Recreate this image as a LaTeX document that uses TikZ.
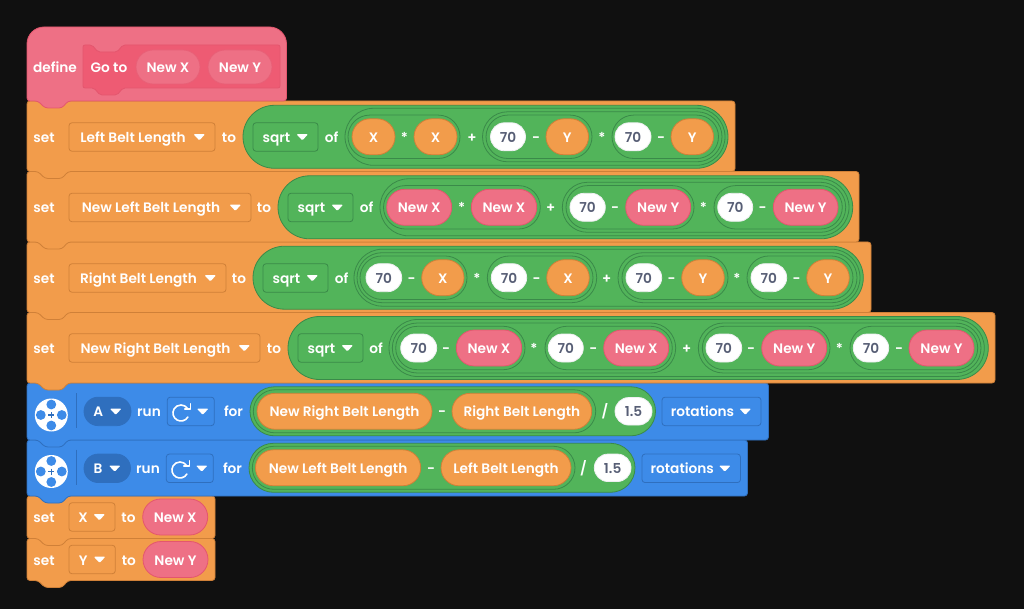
\documentclass[tikz,border=0pt]{standalone}
\usepackage{fontspec}
\setmainfont{Poppins}[UprightFont=* SemiBold,BoldFont=* SemiBold]
\definecolor{bg}{HTML}{101010}
\definecolor{org}{HTML}{F29C4B}
\definecolor{orgd}{HTML}{CF8038}
\definecolor{pnk}{HTML}{EE7085}
\definecolor{pnkd}{HTML}{E4566E}
\definecolor{pnki}{HTML}{EE5B73}
\definecolor{grn}{HTML}{52B45A}
\definecolor{grnd}{HTML}{3A8A49}
\definecolor{blu}{HTML}{3D8BE8}
\definecolor{blud}{HTML}{2F6FBE}
\definecolor{num}{HTML}{575E75}
\newcounter{nn}
\tikzset{
 pillbase/.style={inner sep=0pt,outer sep=0pt,line width=.8pt,font=\fontsize{13.7}{14}\selectfont,text height=11pt,text depth=0pt},
 orgp/.style={fill=org,draw=orgd,text=white},
 pnkp/.style={fill=pnk,draw=pnkd,text=white},
 whtp/.style={fill=white,draw=white!90!num,text=num},
 grnr/.style={fill=grn,draw=grnd},
 defp/.style={fill=pnk,draw=pnkd!60!pnk,text=white},
 txt/.style={inner sep=0pt,outer sep=0pt,text=white,font=\fontsize{13.7}{14}\selectfont,text height=11pt,text depth=0pt},
}
\newcommand\Pill[6]{\stepcounter{nn}%
 \pgfmathsetmacro\Pwid{#2-#1}\pgfmathsetmacro\Pmid{(#1+#2)/2}\pgfmathsetmacro\Prad{#4/2-0.01}%
 \node[pillbase,#5,minimum width=\Pwid pt,minimum height=#4 pt,rounded corners=\Prad pt] (p\thenn) at (\Pmid,#3) {#6};}
\newcommand\Tx[3]{\stepcounter{nn}\node[txt] (t\thenn) at (#1,#2) {#3};}
\newcommand\Tri[2]{\fill[white,rounded corners=1pt] (#1-5.8,#2-2.8) -- (#1+5.8,#2-2.8) -- (#1,#2+3.4) -- cycle;}
% dropdown: left right cy fill outline text
\newcommand\Drop[6]{\stepcounter{nn}%
 \pgfmathsetmacro\Pwid{#2-#1}\pgfmathsetmacro\Pmid{(#1+#2)/2}\pgfmathsetmacro\Ptx{(#1+10+#2-28)/2}\pgfmathsetmacro\Ptr{#2-15.7}%
 \node[inner sep=0pt,outer sep=0pt,line width=.8pt,fill=#4,draw=#5,minimum width=\Pwid pt,minimum height=28.5pt,rounded corners=3pt] (d\thenn) at (\Pmid,#3) {};
 \Tx{\Ptx}{#3}{#6}\Tri{\Ptr}{#3}}
% block: right top bottom fill outline
\newcommand\Blk[5]{\draw[rounded corners=3pt,fill=#4,draw=#5,line width=.8pt] (27,#2) -- (#1,#2) -- (#1,#3) -- (68,#3) -- (62,#3+7) -- (45,#3+7) -- (38,#3) -- (27,#3) -- cycle;}
\newcommand\Motor[2]{\fill[white] (#1,#2) circle (16.5);
 \fill[blu] (#1,#2-10.5) circle (4.9) (#1,#2+10.5) circle (4.9) (#1-10.5,#2) circle (4.9) (#1+10.5,#2) circle (4.9);
 \draw[blud,line width=1.1pt] (#1-3,#2) -- (#1+3,#2) (#1,#2-3) -- (#1,#2+3);}
\newcommand\Turn[2]{\draw[white,line width=1.6pt,line cap=round,line join=round] (#1+6.9,#2+4) arc[start angle=30,end angle=325,radius=8];
 \draw[white,line width=1.6pt,line cap=round,line join=round] (#1+9.5,#2-9.2) -- (#1+9.5,#2-3.8) -- (#1+3.8,#2-3.8);}
\begin{document}
\begin{tikzpicture}[x=1pt,y=-1pt]
\useasboundingbox (0,0) rectangle (1024,609);
\fill[bg] (0,0) rectangle (1024,609);
% ---- blocks, bottom to top
\Blk{215}{538.5}{580.5}{org}{orgd}
\Blk{215}{496}{538.5}{org}{orgd}
\Blk{747.5}{440}{496}{blu}{blud}
\Blk{768.5}{383}{440}{blu}{blud}
\Blk{995}{312.5}{383}{org}{orgd}
\Blk{871}{242}{312.5}{org}{orgd}
\Blk{859}{171.5}{242}{org}{orgd}
\Blk{735}{101}{171.5}{org}{orgd}
\draw[fill=pnk,draw=pnkd,line width=.8pt] (27,101) [rounded corners=17pt] -- (27,27) -- (286.5,27) [rounded corners=3pt] -- (286.5,101) -- (68,101) -- (62,108) -- (45,108) -- (38,101) -- cycle;
% ---- define
\Tx{55}{67}{define}
\draw[fill=pnki,draw=pnkd,line width=.8pt,rounded corners=2pt] (83,45) -- (92,45) -- (98,52) -- (117,52) -- (123,45) -- (280,45) -- (280,88) -- (123,88) -- (117,95) -- (100,95) -- (94,88) -- (83,88) -- cycle;
\Tx{109}{67}{Go to}
\Pill{136}{200}{67}{34}{defp}{New X}
\Pill{208}{272}{67}{34}{defp}{New Y}
% ---- row 1
\Tx{44}{137}{set}
\Drop{69}{215}{137}{org}{orgd}{Left Belt Length}
\Tx{229}{137}{to}
\Pill{243}{728}{136.8}{63}{grnr}{}
\Drop{253}{318}{137}{grn}{grnd}{sqrt}
\Tx{331.5}{137}{of}
\Pill{345}{725}{136.8}{57}{grnr}{}
\Pill{348}{460}{136.8}{43.4}{grnr}{}
\Pill{482.5}{722}{136.8}{50}{grnr}{}
\Pill{486}{592}{136.8}{43.4}{grnr}{}
\Pill{612}{718.5}{136.8}{43.4}{grnr}{}
\Pill{352}{395}{136.8}{36}{orgp}{X}
\Tx{404.5}{137}{*}
\Pill{414}{457}{136.8}{36}{orgp}{X}
\Tx{472}{137}{+}
\Pill{490.5}{525.5}{136.8}{28}{whtp}{70}
\Tx{536}{137}{-}
\Pill{546}{588.5}{136.8}{36}{orgp}{Y}
\Tx{602}{137}{*}
\Pill{615}{651}{136.8}{28}{whtp}{70}
\Tx{661}{137}{-}
\Pill{671}{713.5}{136.8}{36}{orgp}{Y}
% ---- row 2
\Tx{44}{207.5}{set}
\Drop{69}{251}{207.5}{org}{orgd}{New Left Belt Length}
\Tx{264}{207.5}{to}
\Pill{278}{852.7}{207.3}{63}{grnr}{}
\Drop{288}{353}{207.5}{grn}{grnd}{sqrt}
\Tx{366.5}{207.5}{of}
\Pill{380}{849}{207.3}{57}{grnr}{}
\Pill{383.5}{540.3}{207.3}{43.4}{grnr}{}
\Pill{562.3}{845.7}{207.3}{50}{grnr}{}
\Pill{566}{694}{207.3}{43.4}{grnr}{}
\Pill{714}{842.3}{207.3}{43.4}{grnr}{}
\Pill{386.7}{451.7}{207.3}{36}{pnkp}{New X}
\Tx{461.7}{207.5}{*}
\Pill{471.3}{536.7}{207.3}{36}{pnkp}{New X}
\Tx{550.7}{207.5}{+}
\Pill{570}{605.3}{207.3}{28}{whtp}{70}
\Tx{615}{207.5}{-}
\Pill{625.7}{690.7}{207.3}{36}{pnkp}{New Y}
\Tx{703.3}{207.5}{*}
\Pill{717.7}{752.7}{207.3}{28}{whtp}{70}
\Tx{762.7}{207.5}{-}
\Pill{773.3}{838}{207.3}{36}{pnkp}{New Y}
% ---- row 3
\Tx{44}{278}{set}
\Drop{69}{226}{278}{org}{orgd}{Right Belt Length}
\Tx{239}{278}{to}
\Pill{253}{863.3}{277.7}{63}{grnr}{}
\Drop{263}{328}{278}{grn}{grnd}{sqrt}
\Tx{341.5}{278}{of}
\Pill{354}{860}{277.7}{57}{grnr}{}
\Pill{357}{596.7}{277.7}{50}{grnr}{}
\Pill{360}{467}{277.7}{43.4}{grnr}{}
\Pill{487.3}{593}{277.7}{43.4}{grnr}{}
\Pill{618}{857}{277.7}{50}{grnr}{}
\Pill{622}{728}{277.7}{43.4}{grnr}{}
\Pill{747}{853}{277.7}{43.4}{grnr}{}
\Pill{366}{401.7}{277.7}{28}{whtp}{70}
\Tx{411.7}{278}{-}
\Pill{421.7}{464}{277.7}{36}{orgp}{X}
\Tx{477}{278}{*}
\Pill{491.3}{526.7}{277.7}{28}{whtp}{70}
\Tx{536.7}{278}{-}
\Pill{546.7}{589.3}{277.7}{36}{orgp}{X}
\Tx{606.7}{278}{+}
\Pill{626}{661.7}{277.7}{28}{whtp}{70}
\Tx{671.7}{278}{-}
\Pill{681.7}{724.3}{277.7}{36}{orgp}{Y}
\Tx{737}{278}{*}
\Pill{751}{786.7}{277.7}{28}{whtp}{70}
\Tx{796.7}{278}{-}
\Pill{806.7}{849.3}{277.7}{36}{orgp}{Y}
% ---- row 4
\Tx{44}{348}{set}
\Drop{69}{260}{348}{org}{orgd}{New Right Belt Length}
\Tx{274}{348}{to}
\Pill{288}{988.3}{348}{63}{grnr}{}
\Drop{298}{363}{348}{grn}{grnd}{sqrt}
\Tx{376}{348}{of}
\Pill{389}{984.3}{348}{57}{grnr}{}
\Pill{392.3}{675.7}{348}{50}{grnr}{}
\Pill{395.7}{525}{348}{43.4}{grnr}{}
\Pill{545}{672.3}{348}{43.4}{grnr}{}
\Pill{698.3}{981}{348}{50}{grnr}{}
\Pill{702.3}{830}{348}{43.4}{grnr}{}
\Pill{850}{977.7}{348}{43.4}{grnr}{}
\Pill{400.7}{436.7}{348}{28}{whtp}{70}
\Tx{446}{348}{-}
\Pill{456.3}{521.7}{348}{36}{pnkp}{New X}
\Tx{534}{348}{*}
\Pill{548.3}{583.3}{348}{28}{whtp}{70}
\Tx{593.3}{348}{-}
\Pill{603.7}{668.7}{348}{36}{pnkp}{New X}
\Tx{686.7}{348}{+}
\Pill{706}{741.7}{348}{28}{whtp}{70}
\Tx{751}{348}{-}
\Pill{761.7}{826.7}{348}{36}{pnkp}{New Y}
\Tx{839.3}{348}{*}
\Pill{853.3}{888.7}{348}{28}{whtp}{70}
\Tx{899}{348}{-}
\Pill{909}{974}{348}{36}{pnkp}{New Y}
% ---- blue 1
\Motor{51.3}{415}
\draw[blud,line width=.8pt] (76,393) -- (76,428);
\Pill{84}{131}{411.4}{28.5}{fill=blud,draw=blud}{}
\Tx{98.3}{411.4}{A}\Tri{115.7}{411.4}
\Tx{149}{411.4}{run}
\node[inner sep=0pt,outer sep=0pt,line width=.8pt,fill=blu,draw=blud,minimum width=47pt,minimum height=28.5pt,rounded corners=3pt] (dirA) at (190.8,411.4) {};
\Turn{181}{413}\Tri{202.7}{411.4}
\Tx{233.5}{411.4}{for}
\Pill{250}{655.5}{411.3}{49}{grnr}{}
\Pill{253.3}{595.7}{411.3}{43}{grnr}{}
\Pill{257}{432}{411.3}{36}{orgp}{New Right Belt Length}
\Tx{442}{411.4}{-}
\Pill{452}{591.7}{411.3}{36}{orgp}{Right Belt Length}
\Tx{605}{411.4}{/}
\Pill{615}{652}{411.3}{27.5}{whtp}{1.5}
\Drop{662}{761}{411.4}{blu}{blud}{rotations}
% ---- blue 2
\Motor{51.3}{471.5}
\draw[blud,line width=.8pt] (76,449.5) -- (76,484.5);
\Pill{84}{130.5}{468.3}{28.5}{fill=blud,draw=blud}{}
\Tx{98}{468.3}{B}\Tri{114.7}{468.3}
\Tx{148}{468.3}{run}
\node[inner sep=0pt,outer sep=0pt,line width=.8pt,fill=blu,draw=blud,minimum width=47pt,minimum height=28.5pt,rounded corners=3pt] (dirB) at (189.8,468.3) {};
\Turn{180}{470}\Tri{201.7}{468.3}
\Tx{232.5}{468.3}{for}
\Pill{249}{635}{467.8}{49}{grnr}{}
\Pill{252.3}{575}{467.8}{43}{grnr}{}
\Pill{255.5}{420.7}{467.8}{36}{orgp}{New Left Belt Length}
\Tx{431}{468.3}{-}
\Pill{441}{571}{467.8}{36}{orgp}{Left Belt Length}
\Tx{583.5}{468.3}{/}
\Pill{594.3}{631}{467.8}{27.5}{whtp}{1.5}
\Drop{642}{740.5}{468.3}{blu}{blud}{rotations}
% ---- set X / Y
\Tx{44}{517}{set}
\Drop{69}{115}{517}{org}{orgd}{X}
\Tx{128.5}{517}{to}
\Pill{142.7}{207.7}{517}{36}{pnkp}{New X}
\Tx{44}{559.5}{set}
\Drop{69}{115.3}{559.5}{org}{orgd}{Y}
\Tx{128.8}{559.5}{to}
\Pill{143}{208}{559.5}{36}{pnkp}{New Y}
\end{tikzpicture}
\end{document}
